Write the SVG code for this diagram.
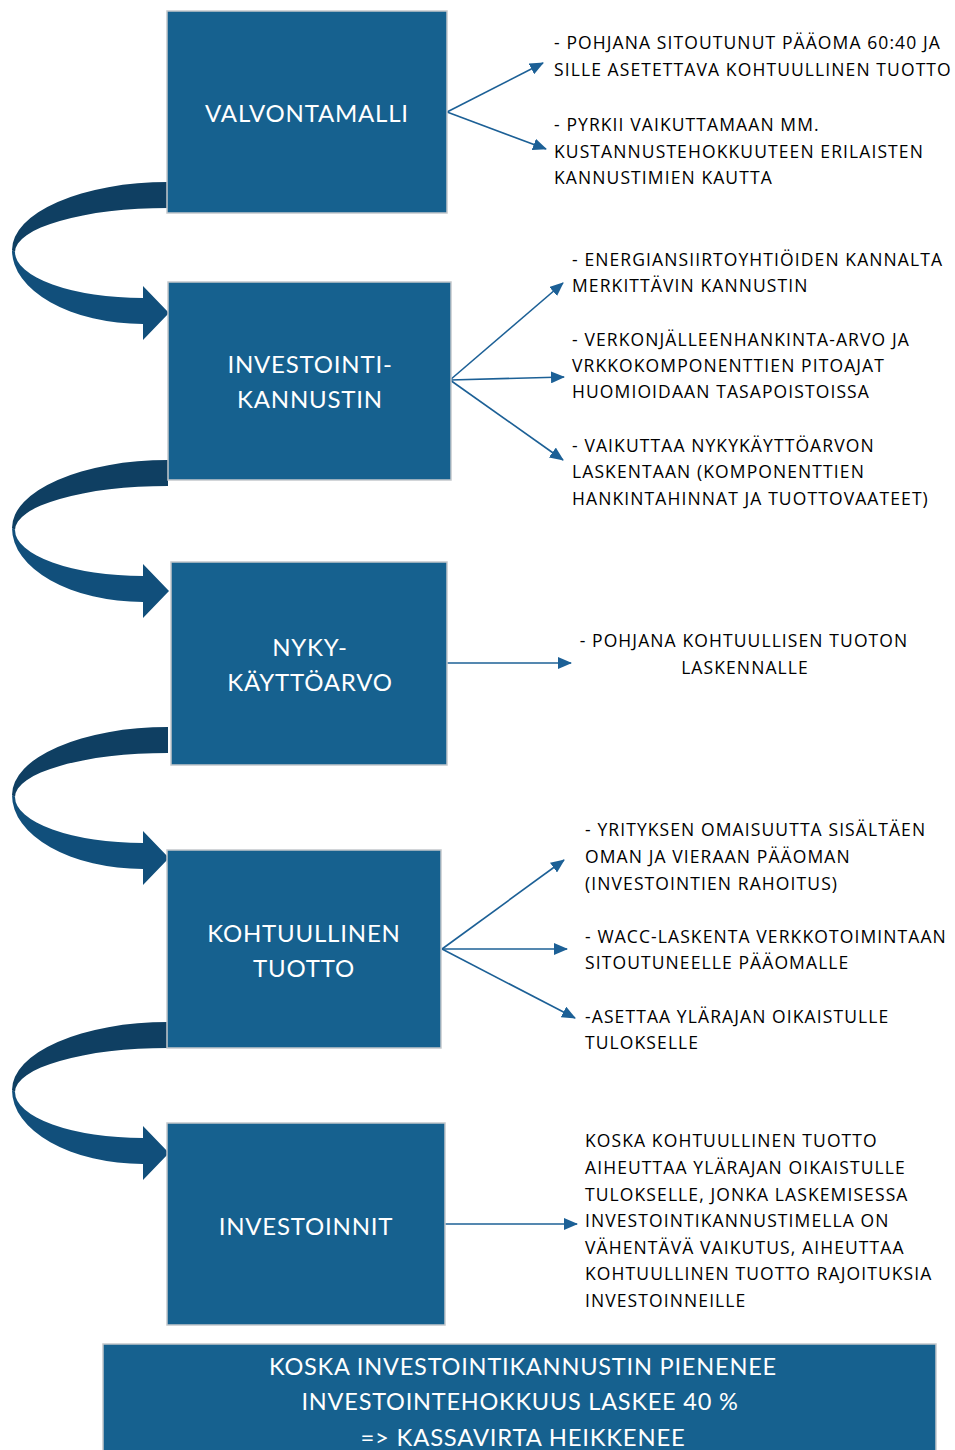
<svg xmlns="http://www.w3.org/2000/svg" width="955" height="1450" viewBox="0 0 955 1450">
<defs>
<style>
.box{fill:#16618f;stroke:#c4c8cc;stroke-width:1.5}
.bl{fill:#ffffff;font-family:Lato,"Open Sans",sans-serif;font-size:24px;letter-spacing:0.8px;text-anchor:middle}
.tx{fill:#000000;font-family:"Open Sans",Lato,sans-serif;font-size:17.5px;letter-spacing:1.1px}
.ln{stroke:#1c6096;stroke-width:1.6;fill:none;marker-end:url(#ah)}
.dk{fill:#0f3f62}
.lt{fill:#114f7b}
</style>
<marker id="ah" markerUnits="userSpaceOnUse" markerWidth="14" markerHeight="12" refX="13" refY="6" orient="auto">
<path d="M0,0 L14,6 L0,12 Z" fill="#1c6096"/>
</marker>
<g id="curl">
<path class="dk" d="M168,182 A156,68 0 0 0 12,250 L15,252 A153,44 0 0 1 168,208 Z"/>
<path class="lt" d="M12,250 A131,74 0 0 0 143,324 L143,340 L169,313 L143,286 L143,298 A128,46 0 0 1 15,252 Z"/>
</g>
</defs>
<rect width="955" height="1450" fill="#ffffff"/>
<g id="connectors">
<use href="#curl"/>
<use href="#curl" transform="translate(0,278)"/>
<use href="#curl" transform="translate(0,545)"/>
<use href="#curl" transform="translate(0,840)"/>
<line class="ln" x1="447" y1="112" x2="543" y2="63"/>
<line class="ln" x1="447" y1="112" x2="546" y2="149"/>
<line class="ln" x1="450" y1="380" x2="563" y2="283"/>
<line class="ln" x1="450" y1="380" x2="564" y2="377"/>
<line class="ln" x1="450" y1="380" x2="563" y2="460"/>
<line class="ln" x1="447" y1="663" x2="571" y2="663"/>
<line class="ln" x1="442" y1="949" x2="564" y2="860"/>
<line class="ln" x1="442" y1="949" x2="567" y2="949"/>
<line class="ln" x1="442" y1="949" x2="575" y2="1018"/>
<line class="ln" x1="445" y1="1224" x2="577" y2="1224"/>
</g>
<g id="n1">
<rect class="box" x="167" y="11" width="280" height="202"/>
<text class="bl" x="307" y="122">VALVONTAMALLI</text>
</g>
<g id="n2">
<rect class="box" x="168" y="282" width="283" height="198"/>
<text class="bl" x="310" y="373">INVESTOINTI-</text>
<text class="bl" x="310" y="408">KANNUSTIN</text>
</g>
<g id="n3">
<rect class="box" x="171" y="562" width="276" height="203"/>
<text class="bl" x="310" y="656">NYKY-</text>
<text class="bl" x="310" y="691">KÄYTTÖARVO</text>
</g>
<g id="n4">
<rect class="box" x="167" y="850" width="274" height="198"/>
<text class="bl" x="304" y="942">KOHTUULLINEN</text>
<text class="bl" x="304" y="977">TUOTTO</text>
</g>
<g id="n5">
<rect class="box" x="167" y="1123" width="278" height="202"/>
<text class="bl" x="306" y="1235">INVESTOINNIT</text>
</g>
<g id="n6">
<rect class="box" x="103" y="1344" width="833" height="120"/>
<text class="bl" x="523" y="1375" textLength="508" lengthAdjust="spacingAndGlyphs">KOSKA INVESTOINTIKANNUSTIN PIENENEE</text>
<text class="bl" x="520" y="1410" textLength="437" lengthAdjust="spacingAndGlyphs">INVESTOINTEHOKKUUS LASKEE 40 %</text>
<text class="bl" x="523" y="1446" textLength="325" lengthAdjust="spacingAndGlyphs">=&gt; KASSAVIRTA HEIKKENEE</text>
</g>
<g id="t1">
<text class="tx" x="554" y="49">- POHJANA SITOUTUNUT PÄÄOMA 60:40 JA</text>
<text class="tx" x="554" y="76">SILLE ASETETTAVA KOHTUULLINEN TUOTTO</text>
</g>
<g id="t2">
<text class="tx" x="554" y="131">- PYRKII VAIKUTTAMAAN MM.</text>
<text class="tx" x="554" y="158">KUSTANNUSTEHOKKUUTEEN ERILAISTEN</text>
<text class="tx" x="554" y="184">KANNUSTIMIEN KAUTTA</text>
</g>
<g id="t3">
<text class="tx" x="572" y="266">- ENERGIANSIIRTOYHTIÖIDEN KANNALTA</text>
<text class="tx" x="572" y="292">MERKITTÄVIN KANNUSTIN</text>
</g>
<g id="t4">
<text class="tx" x="572" y="346">- VERKONJÄLLEENHANKINTA-ARVO JA</text>
<text class="tx" x="572" y="372">VRKKOKOMPONENTTIEN PITOAJAT</text>
<text class="tx" x="572" y="398">HUOMIOIDAAN TASAPOISTOISSA</text>
</g>
<g id="t5">
<text class="tx" x="572" y="452">- VAIKUTTAA NYKYKÄYTTÖARVON</text>
<text class="tx" x="572" y="478">LASKENTAAN (KOMPONENTTIEN</text>
<text class="tx" x="572" y="505">HANKINTAHINNAT JA TUOTTOVAATEET)</text>
</g>
<g id="t6">
<text class="tx" x="744" y="647" text-anchor="middle">- POHJANA KOHTUULLISEN TUOTON</text>
<text class="tx" x="745" y="674" text-anchor="middle">LASKENNALLE</text>
</g>
<g id="t7">
<text class="tx" x="585" y="836">- YRITYKSEN OMAISUUTTA SISÄLTÄEN</text>
<text class="tx" x="585" y="863">OMAN JA VIERAAN PÄÄOMAN</text>
<text class="tx" x="585" y="890">(INVESTOINTIEN RAHOITUS)</text>
</g>
<g id="t8">
<text class="tx" x="585" y="943">- WACC-LASKENTA VERKKOTOIMINTAAN</text>
<text class="tx" x="585" y="969">SITOUTUNEELLE PÄÄOMALLE</text>
</g>
<g id="t9">
<text class="tx" x="585" y="1023">-ASETTAA YLÄRAJAN OIKAISTULLE</text>
<text class="tx" x="585" y="1049">TULOKSELLE</text>
</g>
<g id="t10">
<text class="tx" x="585" y="1147">KOSKA KOHTUULLINEN TUOTTO</text>
<text class="tx" x="585" y="1174">AIHEUTTAA YLÄRAJAN OIKAISTULLE</text>
<text class="tx" x="585" y="1201">TULOKSELLE, JONKA LASKEMISESSA</text>
<text class="tx" x="585" y="1227">INVESTOINTIKANNUSTIMELLA ON</text>
<text class="tx" x="585" y="1254">VÄHENTÄVÄ VAIKUTUS, AIHEUTTAA</text>
<text class="tx" x="585" y="1280">KOHTUULLINEN TUOTTO RAJOITUKSIA</text>
<text class="tx" x="585" y="1307">INVESTOINNEILLE</text>
</g>
</svg>
